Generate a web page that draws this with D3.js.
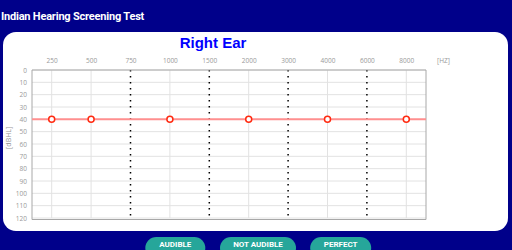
<!DOCTYPE html>
<html>
<head>
<meta charset="utf-8">
<script src="https://cdn.jsdelivr.net/npm/d3@7"></script>
<style>
  body { margin: 0; background: #00008a; }
  svg { display: block; }
</style>
</head>
<body>
<svg id="chart" width="512" height="250"></svg>
<script>
const width = 512;
const height = 250;

// data
const frequencies = ["250", "500", "750", "1000", "1500", "2000", "3000", "4000", "6000", "8000"];
const interOctave = ["750", "1500", "3000", "6000"];
const thresholds = [40, 40, null, 40, null, 40, null, 40, null, 40];
const dbTicks = [0, 10, 20, 30, 40, 50, 60, 70, 80, 90, 100, 110, 120];
const buttons = ["AUDIBLE", "NOT AUDIBLE", "PERFECT"];

const plot = { left: 32, right: 426, top: 70, bottom: 218 };

const svg = d3.select("#chart");

// header
svg.append("text")
  .attr("x", 1)
  .attr("y", 20)
  .attr("fill", "#fff")
  .style("font", "bold 11px Roboto")
  .style("letter-spacing", "-0.2px")
  .text("Indian Hearing Screening Test");

// card
svg.append("rect")
  .attr("x", 3)
  .attr("y", 32)
  .attr("width", 505)
  .attr("height", 199)
  .attr("rx", 13)
  .attr("fill", "#fff");

svg.append("text")
  .attr("x", 213)
  .attr("y", 48)
  .attr("text-anchor", "middle")
  .attr("fill", "#0000ff")
  .style("font", "bold 15px 'Liberation Sans'")
  .text("Right Ear");

const xScale = d3.scalePoint()
  .domain(frequencies)
  .range([plot.left, plot.right])
  .padding(0.5);

const yScale = d3.scaleLinear()
  .domain([0, 120])
  .range([plot.top, plot.bottom]);

// grid
svg.append("g")
  .selectAll("line")
  .data(dbTicks)
  .join("line")
  .attr("x1", plot.left)
  .attr("x2", plot.right)
  .attr("y1", d => yScale(d))
  .attr("y2", d => yScale(d))
  .attr("stroke", "#e2e2e2");

svg.append("g")
  .selectAll("line")
  .data(frequencies.filter(f => !interOctave.includes(f)))
  .join("line")
  .attr("x1", d => xScale(d))
  .attr("x2", d => xScale(d))
  .attr("y1", plot.top)
  .attr("y2", plot.bottom)
  .attr("stroke", "#e2e2e2");

svg.append("g")
  .selectAll("line")
  .data(interOctave)
  .join("line")
  .attr("x1", d => xScale(d))
  .attr("x2", d => xScale(d))
  .attr("y1", plot.top)
  .attr("y2", plot.bottom + 2)
  .attr("stroke", "#000")
  .attr("stroke-width", 1.5)
  .attr("stroke-dasharray", "1.5,4.5");

// frame
svg.append("path")
  .attr("d", `M${plot.left},${plot.bottom + 1.5}V${plot.top}H${plot.right}V${plot.bottom + 1.5}Z`)
  .attr("fill", "none")
  .attr("stroke", "#a8a8a8");

// axes
const xAxis = svg.append("g")
  .attr("transform", `translate(0, ${plot.top - 7})`)
  .call(d3.axisTop(xScale).tickSize(0).tickPadding(0));
xAxis.select(".domain").remove();

const yAxis = svg.append("g")
  .attr("transform", `translate(${plot.left - 5}, 0)`)
  .call(d3.axisLeft(yScale).tickValues(dbTicks).tickSize(0).tickPadding(0));
yAxis.select(".domain").remove();

svg.selectAll(".tick text")
  .attr("fill", "#999")
  .style("font", "6.5px 'Open Sans'");

svg.append("text")
  .attr("x", plot.right + 11)
  .attr("y", plot.top - 7)
  .attr("fill", "#999")
  .style("font", "6.5px 'Open Sans'")
  .text("[HZ]");

svg.append("text")
  .attr("transform", `translate(11, ${yScale(55)}) rotate(-90)`)
  .attr("text-anchor", "middle")
  .attr("fill", "#999")
  .style("font", "7px 'Open Sans'")
  .text("[dBHL]");

// threshold line
const points = frequencies.map((f, i) => ({ f, v: thresholds[i] })).filter(d => d.v !== null);
const first = points[0], last = points[points.length - 1];
const lineData = [
  [plot.left, yScale(first.v)],
  ...points.map(d => [xScale(d.f), yScale(d.v)]),
  [plot.right, yScale(last.v)]
];

svg.append("path")
  .attr("d", d3.line()(lineData))
  .attr("fill", "none")
  .attr("stroke", "#ff8f8f")
  .attr("stroke-width", 2);

svg.append("g")
  .selectAll("circle")
  .data(points)
  .join("circle")
  .attr("cx", d => xScale(d.f))
  .attr("cy", d => yScale(d.v))
  .attr("r", 3)
  .attr("fill", "#fff")
  .attr("stroke", "#ff2a10")
  .attr("stroke-width", 1.5);

// buttons
const btnX = d3.scaleBand()
  .domain(buttons)
  .range([141, 375])
  .paddingInner(0.17)
  .paddingOuter(0);

const btnWidths = [60, 76, 61];
const btn = svg.append("g")
  .selectAll("g")
  .data(buttons)
  .join("g");

btn.append("rect")
  .attr("x", (d, i) => btnX(d) + btnX.bandwidth() / 2 - btnWidths[i] / 2)
  .attr("y", 237)
  .attr("width", (d, i) => btnWidths[i])
  .attr("height", 22)
  .attr("rx", 11)
  .attr("fill", "#26a69a");

btn.append("text")
  .attr("x", d => btnX(d) + btnX.bandwidth() / 2)
  .attr("y", 247)
  .attr("text-anchor", "middle")
  .attr("fill", "#fff")
  .style("font", "bold 8px Roboto")
  .text(d => d);
</script>
</body>
</html>
